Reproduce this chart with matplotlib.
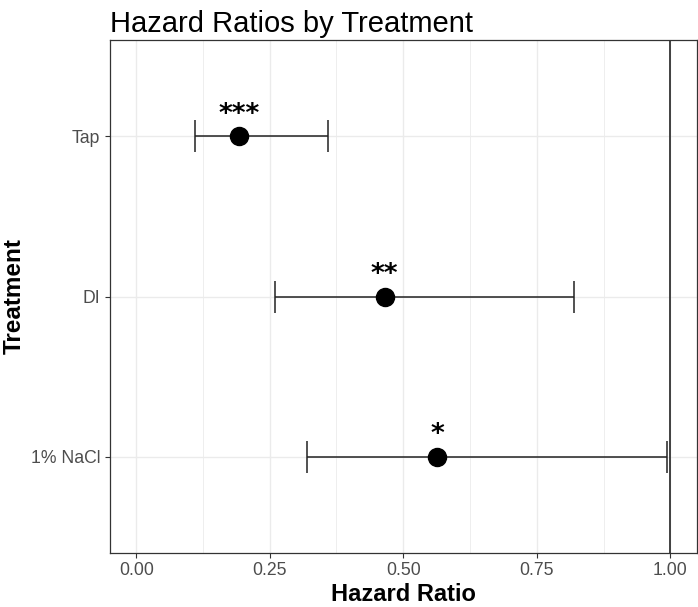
import matplotlib
matplotlib.use("Agg")
import matplotlib.pyplot as plt
from matplotlib.ticker import MultipleLocator

plt.rcParams['font.family'] = ['Liberation Sans', 'DejaVu Sans']

treatments = ["1% NaCl", "DI", "Tap"]
hr = [0.564, 0.465, 0.193]
lower = [0.320, 0.260, 0.110]
upper = [0.994, 0.819, 0.360]
stars = ["*", "**", "***"]

fig = plt.figure(figsize=(6.98, 6.07), dpi=100)
ax = fig.add_axes([109.5/698, 1 - 553/607, (697 - 109.5)/698, (553 - 40)/607])

ypos = list(range(1, len(treatments) + 1))
xerr = [[h - l for h, l in zip(hr, lower)], [u - h for h, u in zip(hr, upper)]]

ax.axvline(1.0, color="#333333", lw=1.3, zorder=2)
ax.errorbar(hr, ypos, xerr=xerr, fmt="none", ecolor="#222222", elinewidth=1.1,
            capsize=11.5, capthick=1.1, zorder=3)
ax.plot(hr, ypos, "o", color="black", ms=13, zorder=4)
for x, y, s in zip(hr, ypos, stars):
    ax.annotate(s, (x, y), xytext=(0, 10.5), textcoords="offset points",
                ha="center", va="baseline", fontsize=19, fontweight="bold",
                family="DejaVu Sans", color="black")

ax.set_xlim(-0.05, 1.05)
ax.set_ylim(0.4, 3.6)
ax.xaxis.set_minor_locator(MultipleLocator(0.125))
ax.set_xticks([0, 0.25, 0.5, 0.75, 1.0])
ax.set_xticklabels(["0.00", "0.25", "0.50", "0.75", "1.00"])
ax.set_yticks(ypos)
ax.set_yticklabels(treatments)

ax.grid(True, which="major", color="#EBEBEB", lw=1.0, zorder=0)
ax.grid(True, which="minor", axis="x", color="#EBEBEB", lw=0.6, zorder=0)
ax.set_axisbelow(True)
ax.tick_params(axis="both", which="major", colors="#333333", labelcolor="#4D4D4D",
               labelsize=12.7, length=3.5, width=0.8, pad=3)
ax.tick_params(axis="x", which="minor", length=0)
for sp in ax.spines.values():
    sp.set_color("#333333")
    sp.set_linewidth(0.9)

ax.set_xlabel("Hazard Ratio", fontsize=17, fontweight="bold", labelpad=3)
ax.set_ylabel("Treatment", fontsize=17.5, fontweight="bold", labelpad=4)
ax.set_title("Hazard Ratios by Treatment", loc="left", fontsize=21, pad=6)

fig.savefig("out.png", dpi=100)
